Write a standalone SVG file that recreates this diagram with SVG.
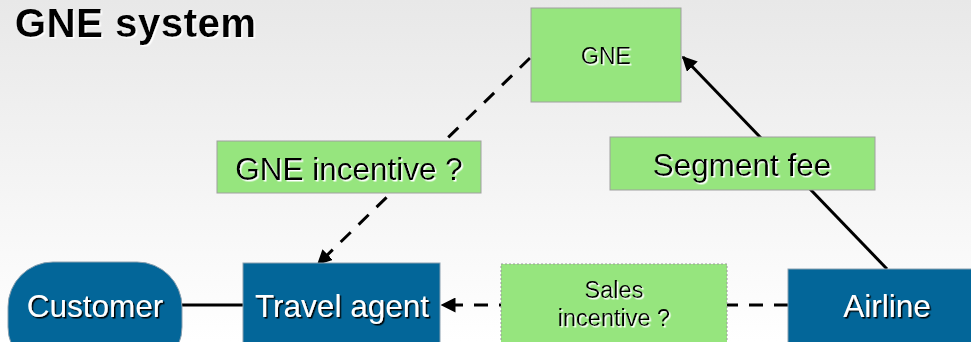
<svg xmlns="http://www.w3.org/2000/svg" width="971" height="342" viewBox="0 0 971 342">
<defs>
<linearGradient id="bg" x1="0" y1="0" x2="0" y2="1">
<stop offset="0" stop-color="#e8e8e8"/>
<stop offset="1" stop-color="#ffffff"/>
</linearGradient>
<filter id="shW" x="-5%" y="-20%" width="110%" height="140%"><feDropShadow dx="1.5" dy="1.5" stdDeviation="0" flood-color="#ffffff"/></filter>
<filter id="shB" x="-5%" y="-20%" width="110%" height="140%"><feDropShadow dx="1.5" dy="1.5" stdDeviation="0" flood-color="#000000"/></filter>
<marker id="ah" viewBox="0 0 10 10" refX="9" refY="5" markerWidth="5" markerHeight="5" orient="auto-start-reverse" markerUnits="strokeWidth">
<path d="M0,0 L10,5 L0,10 z" fill="#000"/>
</marker>
<style>
.t{font-family:"Liberation Sans",Arial,sans-serif;}
.green{fill:#96e57e;stroke:#a0a0a0;stroke-width:1;}
.blue{fill:#036699;stroke:#8aa0b0;stroke-width:1;}
.dk{fill:#000;filter:url(#shW);}
.wt{fill:#fff;filter:url(#shB);}
.ln{stroke:#000;stroke-width:3;fill:none;}
.dash{stroke-dasharray:14 11;}
.lbl{font-size:31.5px;}
</style>
</defs>
<rect width="971" height="342" fill="url(#bg)"/>
<text class="t dk" x="15" y="36.5" font-size="40" font-weight="bold" letter-spacing="0.6">GNE system</text>

<g id="connectors">
<line class="ln" x1="182" y1="305" x2="243" y2="305"/>
<line class="ln dash" x1="788" y1="305" x2="442" y2="305" marker-end="url(#ah)"/>
<line class="ln dash" x1="530" y1="58" x2="318" y2="264" marker-end="url(#ah)"/>
<line class="ln" x1="887" y1="269" x2="683" y2="57" marker-end="url(#ah)"/>
</g>

<g id="gne">
<rect class="green" x="531" y="8" width="150" height="94"/>
<text class="t dk" x="606" y="64" font-size="23" text-anchor="middle">GNE</text>
</g>
<g id="segment-fee">
<rect class="green" x="610" y="137" width="265" height="53"/>
<text class="t dk lbl" x="742" y="176" text-anchor="middle">Segment fee</text>
</g>
<g id="gne-incentive">
<rect class="green" x="217" y="141" width="264" height="52"/>
<text class="t dk lbl" x="349" y="180" text-anchor="middle">GNE incentive ?</text>
</g>
<g id="customer">
<rect class="blue" x="8" y="262" width="174" height="110" rx="45" ry="45"/>
<text class="t wt lbl" x="95" y="317" text-anchor="middle">Customer</text>
</g>
<g id="travel-agent">
<rect class="blue" x="243" y="263" width="197" height="100"/>
<text class="t wt lbl" x="342" y="317" text-anchor="middle">Travel agent</text>
</g>
<g id="sales-incentive">
<rect x="501" y="264" width="226" height="100" fill="#96e57e" stroke="#9a9a9a" stroke-width="1" stroke-dasharray="2 2"/>
<text class="t dk" x="614" y="298" font-size="23.5" text-anchor="middle">Sales</text>
<text class="t dk" x="614" y="326" font-size="23.5" text-anchor="middle">incentive ?</text>
</g>
<g id="airline">
<rect class="blue" x="788" y="269" width="200" height="100"/>
<text class="t wt lbl" x="887" y="317" text-anchor="middle">Airline</text>
</g>
</svg>
